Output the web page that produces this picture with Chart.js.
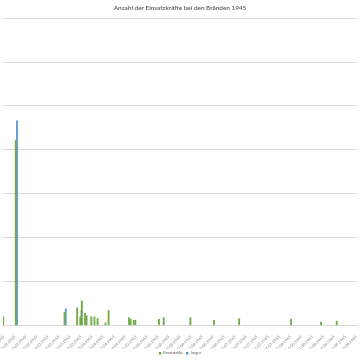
<!DOCTYPE html>
<html>
<head>
<meta charset="utf-8">
<script src="https://cdn.jsdelivr.net/npm/chart.js@4.4.0/dist/chart.umd.min.js"></script>
<style>
  html, body { margin: 0; padding: 0; background: #ffffff; }
  #wrap { width: 360px; height: 360px; position: relative; }
</style>
</head>
<body>
<div id="wrap"><canvas id="c" width="360" height="360"></canvas></div>
<script>
// ---- data ----
const titleText = 'Anzahl der Einsatzkräfte bei den Bränden 1945';
const startDate = '1945-02-06';
const dayCount = 225;          // daily category axis
const labelEvery = 7;          // weekly tick labels
const eventDays      = [0, 8, 39, 47, 49, 50, 52, 53, 56, 58, 60, 65, 67, 80, 81, 83, 84, 99, 102, 119, 134, 150, 183, 202, 212];
const einsatzkraefte = [10, 211, 15, 20, 10, 28, 14, 11, 10, 10, 8, 3, 17, 9, 7, 6, 6, 7, 9, 9, 6, 8, 7, 4, 5];
const jungen         = [0, 233, 19, 0, 17, 0, 0, 0, 0, 0, 0, 0, 0, 0, 0, 0, 0, 0, 0, 0, 0, 0, 0, 0, 0];
const seriesNames = ['Einsatzkräfte', 'Jungen'];
const yMax = 350, yStep = 50;

// ---- build daily table ----
function fmt(d) {
  const dd = String(d.getUTCDate()).padStart(2, '0');
  const mm = String(d.getUTCMonth() + 1).padStart(2, '0');
  return dd + '.' + mm + '.' + d.getUTCFullYear();
}
const base = new Date(startDate + 'T00:00:00Z');
const labels = [];
for (let i = 0; i < dayCount; i++) {
  labels.push(fmt(new Date(base.getTime() + i * 86400000)));
}
const greenData = new Array(dayCount).fill(null);
const blueData = new Array(dayCount).fill(null);
eventDays.forEach((d, i) => {
  if (einsatzkraefte[i]) greenData[d] = einsatzkraefte[i];
  if (jungen[i]) blueData[d] = jungen[i];
});

const FONT = 'Lato, "Open Sans", "DejaVu Sans", sans-serif';

new Chart(document.getElementById('c'), {
  type: 'bar',
  data: {
    labels: labels,
    datasets: [
      { label: seriesNames[0], data: greenData, backgroundColor: '#70AD47', barThickness: 1.2 },
      { label: seriesNames[1], data: blueData, backgroundColor: '#5B9BD5', barThickness: 1.2 }
    ]
  },
  options: {
    responsive: false,
    animation: false,
    devicePixelRatio: 1,
    layout: { padding: { left: 3, right: 3, top: 0, bottom: -5 } },
    plugins: {
      title: {
        display: true,
        text: titleText,
        color: '#595959',
        font: { family: FONT, size: 6.4, weight: '600' },
        padding: { top: 4, bottom: 6.5 }
      },
      legend: {
        position: 'bottom',
        labels: {
          color: '#595959',
          font: { family: FONT, size: 3.5 },
          boxWidth: 2.5,
          boxHeight: 2.5,
          padding: 3
        }
      },
      tooltip: { enabled: false }
    },
    scales: {
      x: {
        grid: { display: false },
        border: { display: true, color: '#d9d9d9' },
        ticks: {
          autoSkip: false,
          minRotation: 45,
          maxRotation: 45,
          padding: 1,
          color: '#7f7f7f',
          font: { family: FONT, size: 4 },
          callback: function (v, i) { return i % labelEvery === 0 ? labels[i] : ''; }
        },
        afterFit: function (s) { s.paddingLeft = 0; s.paddingRight = 0; s.height = 23; }
      },
      y: {
        min: 0,
        max: yMax,
        ticks: { display: false, stepSize: yStep },
        grid: { color: '#d9d9d9', drawTicks: false },
        border: { display: false },
        afterFit: function (s) { s.width = 0; }
      }
    }
  }
});
</script>
</body>
</html>
